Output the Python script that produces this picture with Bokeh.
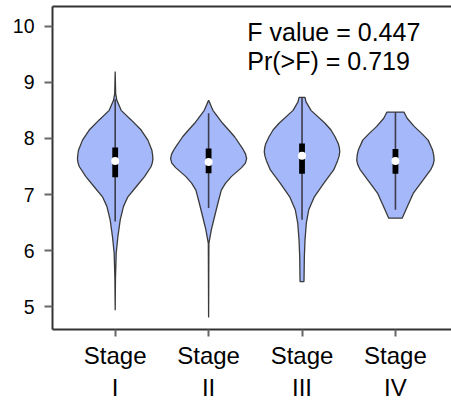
from bokeh.plotting import figure
from bokeh.models import FixedTicker, LinearAxis, Label, Range1d
from bokeh.embed import file_html
from bokeh.resources import INLINE

# ---------------- data ----------------
stages = ["Stage\nI", "Stage\nII", "Stage\nIII", "Stage\nIV"]
positions = [1, 2, 3, 4]

# violin profiles: y levels and half-widths (in category units)
v1_y = [4.94, 5.50, 5.96, 6.25, 6.55, 6.79, 6.96, 7.14, 7.32, 7.50, 7.57, 7.64, 7.71, 7.79, 7.97, 8.15, 8.33, 8.50, 8.68, 8.80, 9.19]
v1_w = [0.0, 0.003, 0.011, 0.029, 0.054, 0.089, 0.136, 0.225, 0.314, 0.385, 0.398, 0.404, 0.400, 0.393, 0.350, 0.278, 0.171, 0.064, 0.018, 0.005, 0.0]

v2_y = [4.81, 6.13, 6.37, 6.61, 6.85, 7.08, 7.20, 7.32, 7.48, 7.56, 7.64, 7.72, 7.82, 8.03, 8.15, 8.27, 8.50, 8.62, 8.68]
v2_w = [0.0, 0.003, 0.029, 0.064, 0.100, 0.136, 0.180, 0.243, 0.353, 0.394, 0.407, 0.396, 0.364, 0.278, 0.215, 0.150, 0.046, 0.016, 0.0]

v3_y = [5.45, 5.90, 6.19, 6.49, 6.73, 6.96, 7.20, 7.44, 7.60, 7.68, 7.76, 7.83, 7.90, 8.03, 8.15, 8.27, 8.50, 8.65, 8.73]
v3_w = [0.021, 0.025, 0.032, 0.046, 0.072, 0.132, 0.232, 0.339, 0.380, 0.396, 0.404, 0.400, 0.390, 0.353, 0.310, 0.246, 0.096, 0.043, 0.032]

v4_y = [6.58, 6.78, 7.02, 7.26, 7.45, 7.53, 7.61, 7.70, 7.80, 7.97, 8.09, 8.21, 8.36, 8.47]
v4_w = [0.072, 0.125, 0.190, 0.297, 0.380, 0.403, 0.414, 0.410, 0.396, 0.350, 0.280, 0.203, 0.125, 0.091]

violin_y = [v1_y, v2_y, v3_y, v4_y]
violin_w = [v1_w, v2_w, v3_w, v4_w]

q1 = [7.31, 7.38, 7.37, 7.37]
median = [7.60, 7.58, 7.69, 7.60]
q3 = [7.84, 7.82, 7.91, 7.81]
whisker_lo = [6.52, 6.76, 6.55, 6.73]
whisker_hi = [8.70, 8.45, 8.73, 8.47]

y_ticks = [5, 6, 7, 8, 9, 10]
stat_lines = ["F value = 0.447", "Pr(>F) = 0.719"]

# ---------------- figure ----------------
FONT = "Liberation Sans"
p = figure(width=451, height=403, output_backend="svg", toolbar_location=None,
           x_range=Range1d(0.329, 4.6), y_range=Range1d(4.597, 10.35),
           min_border_left=52, min_border_right=0, min_border_top=6, min_border_bottom=73,
           x_axis_location=None, y_axis_location=None)
p.outline_line_color = None
p.xgrid.visible = False
p.ygrid.visible = False
p.background_fill_color = "white"
p.border_fill_color = "white"

# violins
xs, ys = [], []
for c, vy, vw in zip(positions, violin_y, violin_w):
    left = [c - w for w in vw]
    right = [c + w for w in reversed(vw)]
    xs.append(left + right)
    ys.append(list(vy) + list(reversed(vy)))
p.patches(xs, ys, fill_color="#A5B8FA", line_color="#3a3a3a", line_width=1.3)

# whiskers
p.segment(x0=positions, y0=whisker_lo, x1=positions, y1=whisker_hi,
          line_color="#3c3c4c", line_width=1.6)
# boxes
p.vbar(x=positions, bottom=q1, top=q3, width=0.062, fill_color="black", line_color=None)
# medians
p.scatter(x=positions, y=median, size=8, fill_color="white", line_color=None)

# axes
ya = LinearAxis(ticker=FixedTicker(ticks=y_ticks))
ya.axis_line_color = "#333333"
ya.axis_line_width = 2
ya.major_tick_line_color = "#666666"
ya.major_tick_line_width = 2
ya.major_tick_out = 8
ya.major_tick_in = 0
ya.minor_tick_line_color = None
ya.major_label_text_font = FONT
ya.major_label_text_font_size = "19.5px"
ya.major_label_text_color = "black"
ya.major_label_standoff = 10
p.add_layout(ya, "left")

xa = LinearAxis(ticker=FixedTicker(ticks=positions),
                major_label_overrides={pos: lab for pos, lab in zip(positions, stages)})
xa.axis_line_color = "#333333"
xa.axis_line_width = 2
xa.major_tick_line_color = "#666666"
xa.major_tick_line_width = 2
xa.major_tick_out = 7
xa.major_tick_in = 0
xa.minor_tick_line_color = None
xa.major_label_text_font = FONT
xa.major_label_text_font_size = "24px"
xa.major_label_text_color = "black"
xa.major_label_standoff = 5
p.add_layout(xa, "below")

ta = LinearAxis(ticker=FixedTicker(ticks=[]))
ta.axis_line_color = "#333333"
ta.axis_line_width = 2
ta.major_tick_line_color = None
ta.minor_tick_line_color = None
ta.major_label_text_font_size = "0px"
p.add_layout(ta, "above")

# annotation text
for txt, yy in zip(stat_lines, [9.90, 9.38]):
    p.add_layout(Label(x=2.414, y=yy, text=txt, text_font=FONT, text_font_size="25px",
                       text_color="black", text_baseline="alphabetic", text_align="left"))

open("out.html", "w").write(file_html(p, INLINE))
